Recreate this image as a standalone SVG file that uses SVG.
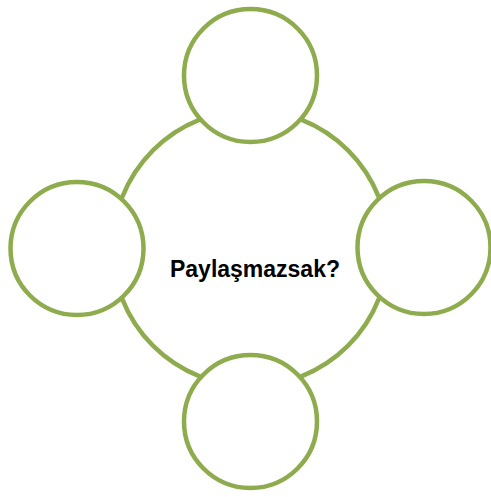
<svg xmlns="http://www.w3.org/2000/svg" width="491" height="497" viewBox="0 0 491 497">
<style>
.ring{fill:#fff;stroke:#8EAC4D;stroke-width:4.5}
.lbl{font-family:"Liberation Sans",Arial,sans-serif;font-weight:bold;font-size:23px;fill:#000}
</style>
<rect width="491" height="497" fill="#fff"/>
<g id="connectors"/>
<g id="center">
<circle class="ring" cx="250.5" cy="248" r="138"/>
<text class="lbl" x="255" y="277" text-anchor="middle" textLength="170" lengthAdjust="spacingAndGlyphs">Paylaşmazsak?</text>
</g>
<g id="top"><circle class="ring" cx="250.5" cy="75.5" r="66.5"/></g>
<g id="left"><circle class="ring" cx="77" cy="248.5" r="66.5"/></g>
<g id="right"><circle class="ring" cx="424" cy="247.5" r="66.5"/></g>
<g id="bottom"><circle class="ring" cx="250.5" cy="421.5" r="66.5"/></g>
</svg>
